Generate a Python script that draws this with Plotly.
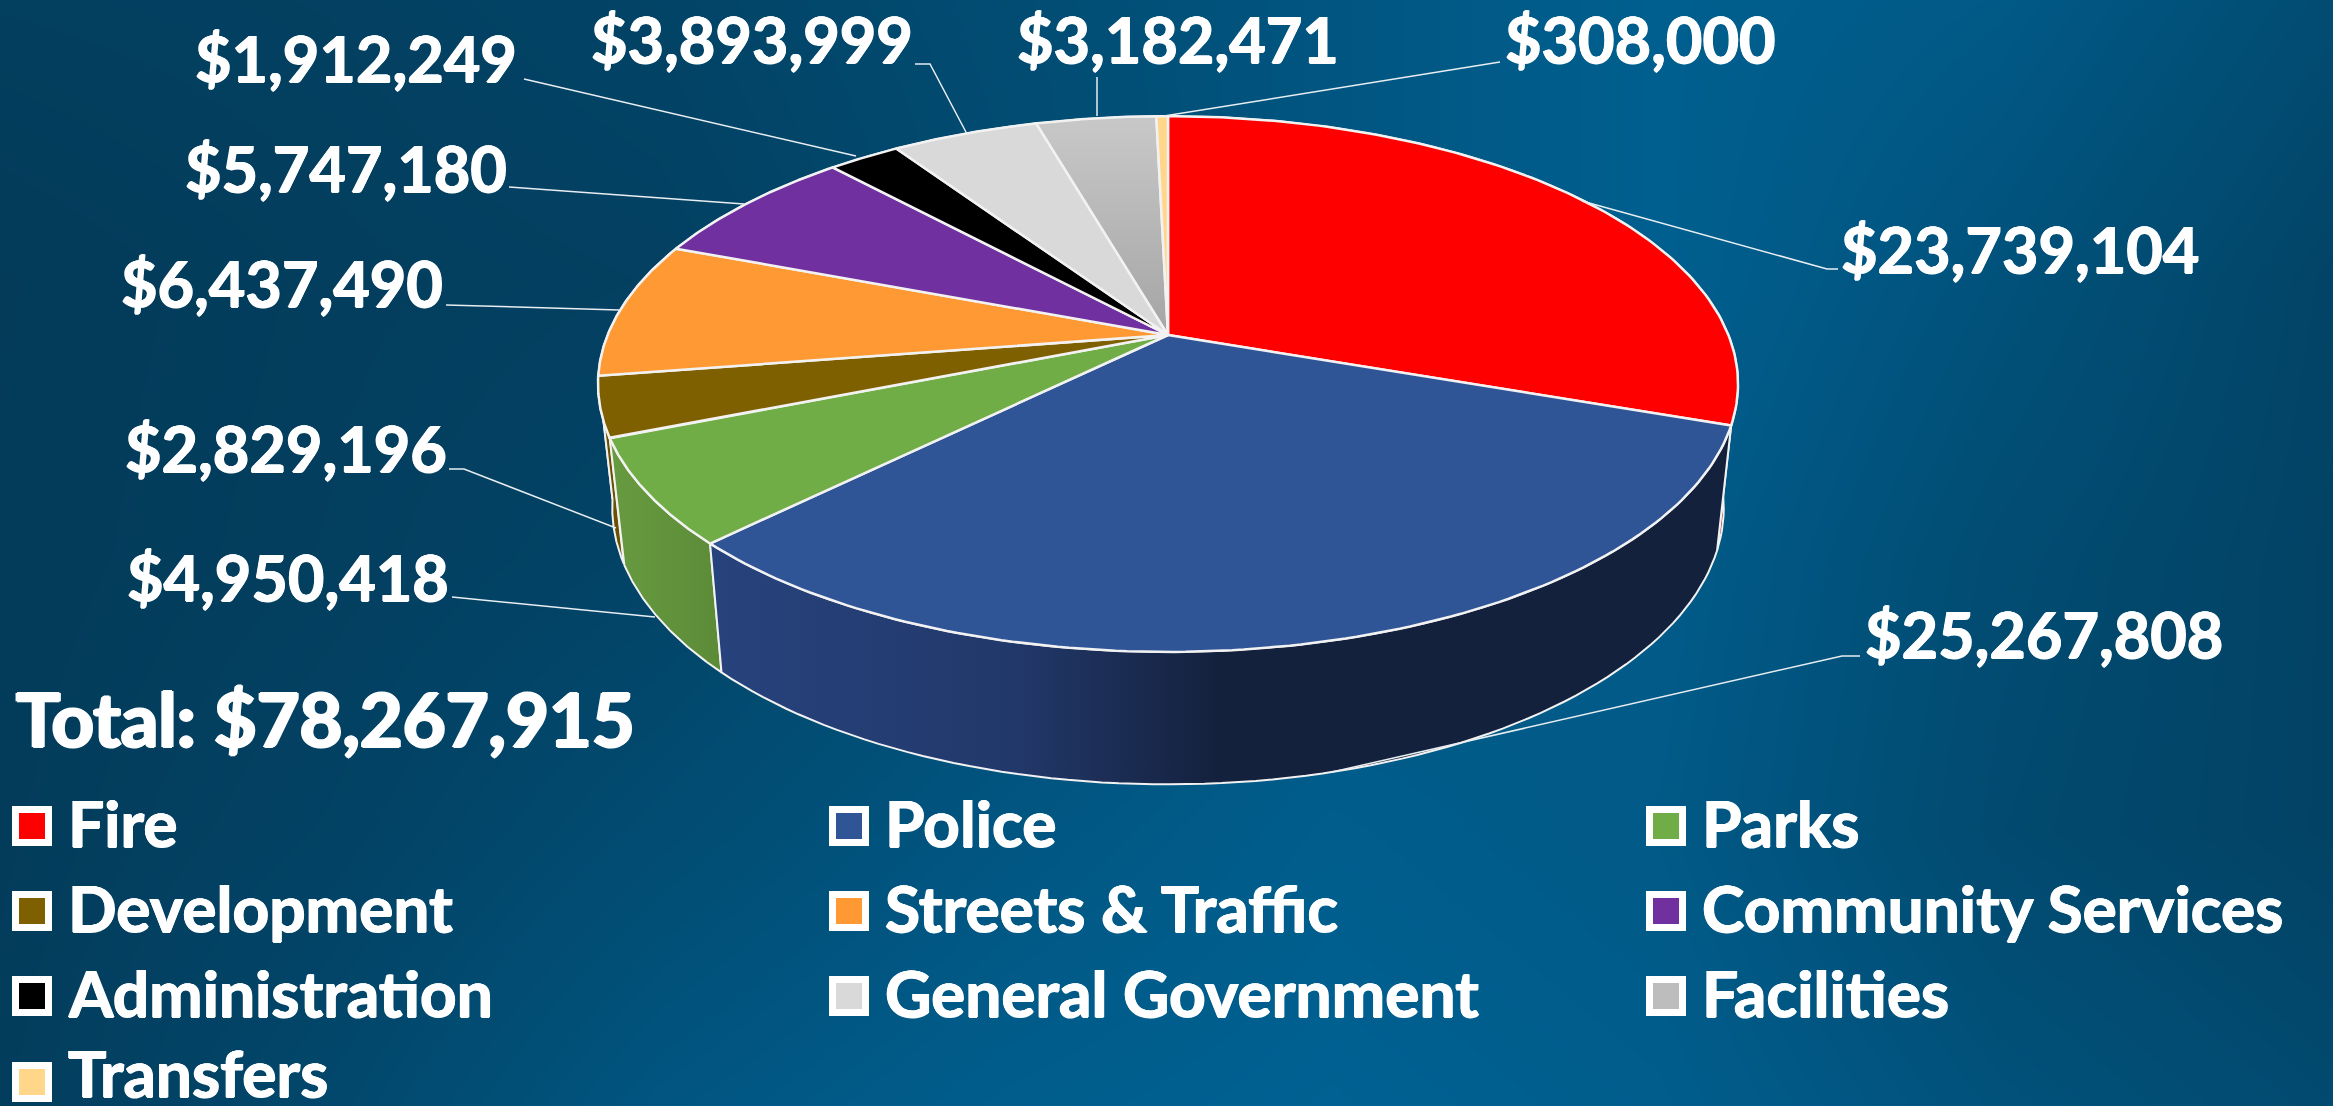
import numpy as np
import plotly.graph_objects as go

# ---- data ----
categories = ["Fire", "Police", "Parks", "Development", "Streets & Traffic",
              "Community Services", "Administration", "General Government", "Facilities", "Transfers"]
values = [23739104, 25267808, 4950418, 2829196, 6437490, 5747180, 1912249, 3893999, 3182471, 308000]
total_label = "Total: $78,267,915"
colors = ["#ff0000", "#2f5597", "#70ad47", "#7f6000", "#ff9933", "#7030a0", "#000000", "#d9d9d9", "#bdbdbd", "#ffd68a"]
side_colors = ["#8f0000", "#14213d", "#5f9139", "#6a5000", "#d07a20", "#5a2685", "#000000", "#b0b0b0", "#999999", "#d0ae70"]

# ---- layout helpers (pixels) ----
W, H = 2333, 1106
CX, CY, A, B, K = 1168, 335, 560.4, 258.9, 0.183
XS, YS, DROP = 0.975, 1.033, 122
FONT = "Lato"
LABEL_SIZE = 63
LEGEND_SIZE = 64
TOTAL_SIZE = 74
WHITE = "#ffffff"
THICK = "0.7px 0 0 #fff, -0.7px 0 0 #fff, 0 0.5px 0 #fff, 0 -0.5px 0 #fff"


def top_ring(t):
    x, y = np.sin(t), np.cos(t)
    w = 1 + K * y
    return CX + A * x / w, CY - B * y / w


def bottom_ring(t):
    px, py = top_ring(t)
    return CX + (px - CX) * XS, CY + (py - CY) * YS + DROP


fig = go.Figure()

# background
bg_x = [0, 330, 660, 1000, 1330, 1660, 2000, 2333]
bg_y = [0, 280, 560, 830, 1106]
bg_z = [[.12, .15, .25, .45, .70, .95, .80, .45],
        [.02, .10, .15, .40, .70, .95, .60, .25],
        [.03, .12, .25, .50, .75, .85, .45, .22],
        [.05, .20, .45, .70, .90, .80, .40, .22],
        [.08, .35, .70, .90, 1.0, .90, .60, .40]]
fig.add_trace(go.Heatmap(x=bg_x, y=bg_y, z=bg_z, zsmooth="best", showscale=False, hoverinfo="skip",
                         zmin=0, zmax=1, colorscale=[[0, "#033a58"], [1, "#006192"]]))

fractions = np.array(values) / sum(values)
edges = np.concatenate([[0], np.cumsum(fractions)]) * 2 * np.pi

# side walls, back to front
for i in [9, 8, 7, 6, 5, 4, 3, 2, 0, 1]:
    t = np.linspace(edges[i], edges[i + 1], 80)
    tx, ty = top_ring(t)
    bx, by = bottom_ring(t)
    kw = dict(fillcolor=side_colors[i])
    if categories[i] == "Police":
        kw = dict(fillgradient=dict(type="horizontal", colorscale=[[0, "#27437d"], [.3, "#22386a"], [.5, "#14213d"], [1, "#14213d"]]))
    if categories[i] == "Parks":
        kw = dict(fillgradient=dict(type="horizontal", colorscale=[[0, "#679b40"], [1, "#5c8b38"]]))
    fig.add_trace(go.Scatter(x=np.r_[tx, bx[::-1], tx[0]], y=np.r_[ty, by[::-1], ty[0]], mode="lines", fill="toself",
                             line=dict(color="#f2f2f2", width=2), hoverinfo="skip", showlegend=False, **kw))

# top faces
for i in range(len(values)):
    t = np.linspace(edges[i], edges[i + 1], 120)
    tx, ty = top_ring(t)
    kw = dict(fillcolor=colors[i])
    if categories[i] == "Facilities":
        kw = dict(fillgradient=dict(type="vertical", colorscale=[[0, "#a5a5a5"], [1, "#c8c8c8"]]))
    fig.add_trace(go.Scatter(x=np.r_[CX, tx, CX], y=np.r_[CY, ty, CY], mode="lines", fill="toself", name=categories[i],
                             line=dict(color="#f2f2f2", width=2.5), hoverinfo="name", showlegend=False, **kw))

# data labels and leaders
label_pos = {"Fire": (1839, 248), "Police": (1863, 633), "Parks": (125, 576), "Development": (123, 447),
             "Streets & Traffic": (119, 282), "Community Services": (183, 167), "Administration": (193, 57),
             "General Government": (589, 38), "Facilities": (1015, 38), "Transfers": (1503, 38)}
leaders = {"Fire": [(1582, 201), (1827, 269), (1838, 269)],
           "Police": [(1332, 772), (1842, 656), (1860, 656)],
           "Parks": [(452, 597), (655, 617)],
           "Development": [(449, 469), (464, 469), (616, 528)],
           "Streets & Traffic": [(446, 305), (619, 310)],
           "Community Services": [(509, 187), (744, 204)],
           "Administration": [(524, 79), (856, 156)],
           "General Government": [(915, 64), (930, 64), (967, 134)],
           "Facilities": [(1097, 77), (1097, 116)],
           "Transfers": [(1500, 62), (1164, 116)]}
for name, pts in leaders.items():
    fig.add_trace(go.Scatter(x=[p[0] for p in pts], y=[p[1] for p in pts], mode="lines",
                             line=dict(color="#e8eef2", width=1.5), hoverinfo="skip", showlegend=False))
for name, v in zip(categories, values):
    lx, ly = label_pos[name]
    fig.add_annotation(x=lx, y=ly, text=f"<b>${v:,}</b>", showarrow=False, xanchor="left", yanchor="middle",
                       font=dict(family=FONT, size=LABEL_SIZE, color=WHITE, shadow=THICK))

# total
fig.add_annotation(x=14, y=718, text=f"<b>{total_label}</b>", showarrow=False, xanchor="left", yanchor="middle",
                   font=dict(family=FONT, size=TOTAL_SIZE, color=WHITE, shadow="1.5px 0 0 #fff, -1.5px 0 0 #fff, 0 1px 0 #fff, 0 -1px 0 #fff"))

# legend
leg_x = [32, 849, 1666]
leg_tx = [66, 883, 1700]
leg_y = [826, 911, 996, 1082]
leg_ty = [822, 907, 992, 1072]
for i, name in enumerate(categories):
    c, r = i % 3, i // 3
    fig.add_trace(go.Scatter(x=[leg_x[c]], y=[leg_y[r]], mode="markers", hoverinfo="skip", showlegend=False,
                             marker=dict(symbol="square", size=33, color=colors[i], line=dict(color=WHITE, width=7))))
    fig.add_annotation(x=leg_tx[c], y=leg_ty[r], text=f"<b>{name}</b>", showarrow=False, xanchor="left", yanchor="middle",
                       font=dict(family=FONT, size=LEGEND_SIZE, color=WHITE, shadow=THICK))

fig.update_layout(width=W, height=H, margin=dict(l=0, r=0, t=0, b=0), showlegend=False,
                  paper_bgcolor="#033a58", plot_bgcolor="#033a58",
                  xaxis=dict(range=[0, W], visible=False, fixedrange=True),
                  yaxis=dict(range=[H, 0], visible=False, fixedrange=True))
fig.write_html("out.html", post_script="document.body.style.margin='0';document.body.style.overflow='hidden';",
               config={"displayModeBar": False})
